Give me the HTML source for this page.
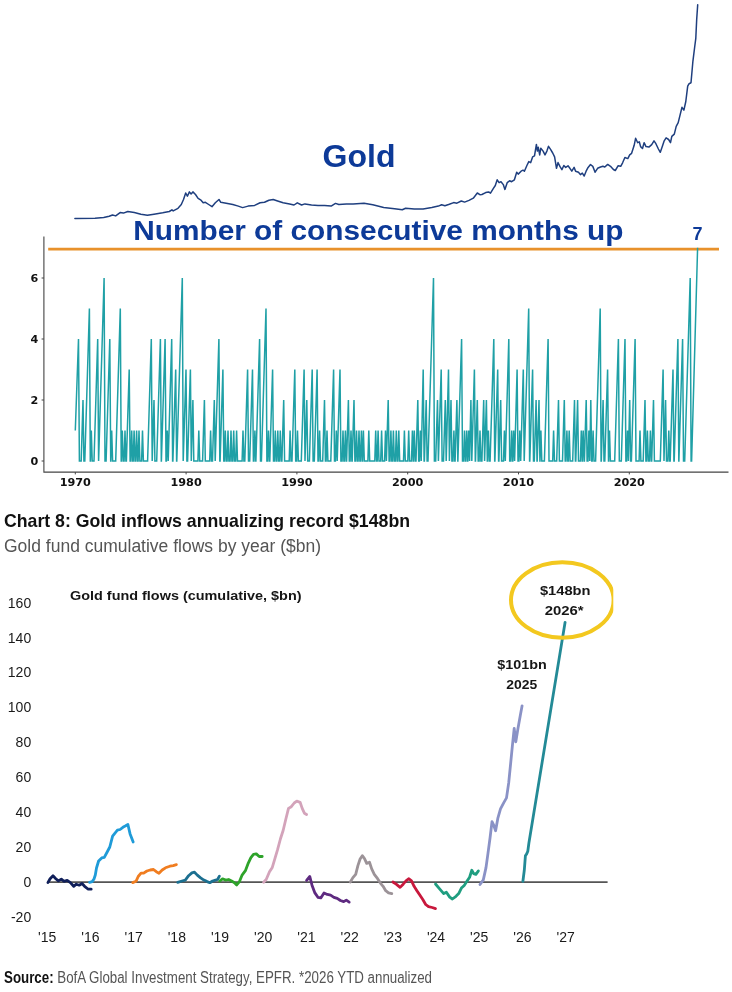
<!DOCTYPE html>
<html lang="en"><head><meta charset="utf-8"><title>Gold: consecutive months up &amp; fund flows</title>
<style>html,body{margin:0;padding:0;background:#fff}body{width:732px;height:992px;overflow:hidden}svg{display:block}.s{font-family:"Liberation Sans", sans-serif}.d{font-family:"DejaVu Sans", "Liberation Sans", sans-serif;font-weight:bold;font-size:10.5px;fill:#111}.ax{font-family:"Liberation Sans",sans-serif;font-size:14px;fill:#1a1a1a}.an{font-family:"Liberation Sans",sans-serif;font-weight:bold;font-size:13.5px;fill:#161616}</style></head><body>
<svg width="732" height="992" viewBox="0 0 732 992">
<rect width="732" height="992" fill="#fff"/>
<polyline fill="none" stroke="#1f3f7f" stroke-width="1.5" stroke-linejoin="round" stroke-linecap="round" points="74.9,218.5 95.0,218.3 103.7,217.6 109.2,216.3 112.5,215.0 115.7,215.9 120.1,212.6 123.4,213.1 127.8,211.5 134.3,212.6 140.9,214.2 147.4,215.2 154.0,214.2 162.7,212.8 169.3,211.5 171.9,209.8 173.2,210.9 178.0,208.3 181.3,204.5 183.5,199.5 185.7,193.0 187.4,196.2 189.4,191.9 191.1,194.0 192.9,191.9 195.5,194.5 198.1,198.4 201.0,200.2 203.2,202.8 205.4,202.3 208.7,204.5 212.0,206.7 215.3,202.8 219.0,199.5 220.8,202.3 226.2,203.2 232.8,204.5 238.3,206.1 242.6,207.6 248.1,206.1 254.6,205.4 260.1,202.8 264.5,202.3 268.9,200.2 273.2,199.5 277.6,201.0 283.1,202.8 289.6,203.9 294.0,205.0 297.3,202.8 301.6,205.0 304.9,203.9 311.5,205.0 318.0,205.4 324.6,205.6 331.1,206.1 335.5,203.4 338.8,204.5 346.4,203.9 353.1,203.9 364.0,203.2 372.8,204.8 383.7,207.6 394.6,208.7 402.3,209.8 405.6,208.3 414.3,209.1 423.1,209.1 431.8,207.6 438.4,206.1 441.6,204.8 444.9,205.8 449.3,204.3 453.7,202.6 456.9,203.2 461.3,201.0 464.6,202.1 469.0,200.4 473.3,198.2 477.3,193.0 479.9,194.7 481.9,194.5 485.7,192.6 488.6,191.9 490.5,193.2 493.4,188.4 495.3,185.5 497.2,179.8 499.1,182.7 501.0,181.7 503.3,184.6 504.9,189.4 507.2,182.7 509.6,180.8 511.6,181.7 514.4,179.8 516.7,172.2 518.2,174.1 521.1,171.2 523.0,170.2 524.4,171.2 526.9,165.5 528.8,161.6 530.7,162.6 532.6,156.9 534.5,155.9 536.4,144.4 537.4,151.1 538.3,147.3 539.7,154.9 540.8,148.2 543.1,151.1 545.0,154.9 546.9,151.1 548.5,146.3 550.4,149.2 552.7,153.0 554.6,156.9 556.5,168.3 558.0,162.6 559.9,166.4 561.9,169.7 563.8,165.5 565.7,167.4 568.0,165.8 569.9,168.3 571.8,171.2 574.1,167.4 575.6,171.2 578.5,172.2 580.4,174.6 582.3,173.1 584.2,176.0 586.1,171.2 588.1,167.4 590.5,164.5 592.8,166.4 595.1,172.2 597.6,168.3 600.5,167.0 602.9,166.3 604.8,167.0 607.7,164.4 610.5,166.3 613.4,169.5 615.3,170.5 618.2,165.7 620.7,166.3 622.6,162.8 624.9,157.5 627.8,158.6 629.7,154.8 631.6,153.3 634.1,145.6 635.6,138.3 637.7,142.7 639.3,141.8 640.6,146.6 642.5,148.5 644.1,142.7 646.0,146.6 648.9,147.1 651.7,144.6 654.0,140.8 655.9,143.7 658.4,149.0 660.3,152.3 662.3,146.6 664.2,140.8 666.1,137.9 668.6,139.5 670.5,142.7 671.8,136.4 674.3,134.1 676.2,126.4 678.2,122.6 680.1,114.9 682.0,107.3 683.9,110.2 685.8,101.5 687.7,86.2 689.1,83.7 691.0,82.8 692.9,61.3 694.8,46.0 695.8,38.3 696.7,19.2 697.7,4.8"/>
<text class="s" x="359" y="166.8" text-anchor="middle" font-size="32" font-weight="bold" fill="#0d3a98">Gold</text>
<text class="s" x="133.2" y="240" font-size="28" font-weight="bold" fill="#0d3a98" textLength="490.3" lengthAdjust="spacingAndGlyphs">Number of consecutive months up</text>
<text class="s" x="697.6" y="239.6" text-anchor="middle" font-size="18" font-weight="bold" fill="#0d3a98">7</text>
<path d="M43.9 236.5V472.1H728.5" fill="none" stroke="#444" stroke-width="1.1"/>
<line x1="41.6" x2="43.9" y1="461.0" y2="461.0" stroke="#444" stroke-width="1"/>
<text class="d" x="38.4" y="464.9" text-anchor="end" textLength="7.8" lengthAdjust="spacingAndGlyphs">0</text>
<line x1="41.6" x2="43.9" y1="400.0" y2="400.0" stroke="#444" stroke-width="1"/>
<text class="d" x="38.4" y="403.9" text-anchor="end" textLength="7.8" lengthAdjust="spacingAndGlyphs">2</text>
<line x1="41.6" x2="43.9" y1="339.0" y2="339.0" stroke="#444" stroke-width="1"/>
<text class="d" x="38.4" y="342.9" text-anchor="end" textLength="7.8" lengthAdjust="spacingAndGlyphs">4</text>
<line x1="41.6" x2="43.9" y1="278.0" y2="278.0" stroke="#444" stroke-width="1"/>
<text class="d" x="38.4" y="281.9" text-anchor="end" textLength="7.8" lengthAdjust="spacingAndGlyphs">6</text>
<line x1="75.3" x2="75.3" y1="472.1" y2="474.4" stroke="#444" stroke-width="1"/>
<text class="d" x="75.3" y="485.7" text-anchor="middle" textLength="31.3" lengthAdjust="spacingAndGlyphs">1970</text>
<line x1="186.1" x2="186.1" y1="472.1" y2="474.4" stroke="#444" stroke-width="1"/>
<text class="d" x="186.1" y="485.7" text-anchor="middle" textLength="31.3" lengthAdjust="spacingAndGlyphs">1980</text>
<line x1="296.9" x2="296.9" y1="472.1" y2="474.4" stroke="#444" stroke-width="1"/>
<text class="d" x="296.9" y="485.7" text-anchor="middle" textLength="31.3" lengthAdjust="spacingAndGlyphs">1990</text>
<line x1="407.7" x2="407.7" y1="472.1" y2="474.4" stroke="#444" stroke-width="1"/>
<text class="d" x="407.7" y="485.7" text-anchor="middle" textLength="31.3" lengthAdjust="spacingAndGlyphs">2000</text>
<line x1="518.5" x2="518.5" y1="472.1" y2="474.4" stroke="#444" stroke-width="1"/>
<text class="d" x="518.5" y="485.7" text-anchor="middle" textLength="31.3" lengthAdjust="spacingAndGlyphs">2010</text>
<line x1="629.3" x2="629.3" y1="472.1" y2="474.4" stroke="#444" stroke-width="1"/>
<text class="d" x="629.3" y="485.7" text-anchor="middle" textLength="31.3" lengthAdjust="spacingAndGlyphs">2020</text>
<line x1="48.2" x2="719" y1="249.1" y2="249.1" stroke="#e8912b" stroke-width="2.9"/>
<polyline fill="none" stroke="#1fa0a6" stroke-width="1.5" stroke-linejoin="miter" stroke-miterlimit="3" points="75.3,430.5 78.5,339.0 79.4,461.0 81.2,461.0 83.0,400.0 83.9,461.0 84.8,461.0 89.4,308.5 90.3,461.0 90.4,461.0 91.3,430.5 92.2,461.0 94.0,461.0 97.7,339.0 98.6,461.0 104.1,278.0 105.0,461.0 106.1,461.0 109.8,339.0 110.7,461.0 110.8,461.0 111.7,430.5 112.6,461.0 115.7,461.0 120.3,308.5 121.2,461.0 121.4,461.0 122.3,430.5 123.2,461.0 124.1,461.0 125.0,430.5 125.9,461.0 126.4,461.0 129.2,369.5 130.1,461.0 130.8,461.0 131.7,430.5 132.6,461.0 133.2,461.0 134.1,430.5 135.0,461.0 135.7,461.0 136.6,430.5 137.5,461.0 138.1,461.0 139.0,430.5 139.9,461.0 141.6,461.0 142.5,430.5 143.4,461.0 147.6,461.0 151.3,339.0 152.2,461.0 154.0,400.0 154.9,461.0 156.7,461.0 160.4,339.0 161.3,461.0 161.4,461.0 165.1,339.0 166.0,461.0 166.4,461.0 167.3,430.5 168.2,461.0 171.7,339.0 172.6,461.0 172.9,461.0 175.7,369.5 176.6,461.0 176.8,461.0 182.3,278.0 183.2,461.0 186.0,369.5 186.9,461.0 187.6,461.0 190.4,369.5 191.3,461.0 192.9,400.0 193.8,461.0 197.9,461.0 198.8,430.5 199.7,461.0 202.6,461.0 204.4,400.0 205.3,461.0 209.7,461.0 210.6,430.5 211.5,461.0 212.5,461.0 214.3,400.0 215.2,461.0 218.9,339.0 219.8,461.0 220.1,461.0 222.9,369.5 223.8,461.0 224.4,461.0 225.3,430.5 226.2,461.0 227.1,461.0 228.0,430.5 228.9,461.0 230.1,461.0 231.0,430.5 231.9,461.0 232.8,461.0 233.7,430.5 234.6,461.0 235.7,461.0 236.6,430.5 237.5,461.0 242.1,461.0 243.0,430.5 243.9,461.0 244.8,461.0 247.6,369.5 248.5,461.0 249.7,461.0 252.5,369.5 253.4,461.0 254.0,461.0 254.9,430.5 255.8,461.0 255.9,461.0 259.6,339.0 260.5,461.0 261.4,461.0 266.0,308.5 266.9,461.0 267.6,461.0 268.5,430.5 269.4,461.0 269.8,461.0 272.6,369.5 273.5,461.0 274.4,461.0 275.3,430.5 276.2,461.0 276.9,461.0 277.8,430.5 278.7,461.0 279.4,461.0 280.3,430.5 281.2,461.0 281.9,461.0 283.7,400.0 284.6,461.0 289.2,461.0 290.1,430.5 291.0,461.0 292.0,461.0 294.8,369.5 295.7,461.0 296.6,461.0 297.5,430.5 298.4,461.0 301.3,461.0 304.1,369.5 305.0,461.0 306.8,400.0 307.7,461.0 309.4,461.0 312.2,369.5 313.1,461.0 314.3,461.0 317.1,369.5 318.0,461.0 318.7,461.0 319.6,430.5 320.5,461.0 322.7,461.0 324.5,400.0 325.4,461.0 326.1,461.0 327.0,430.5 327.9,461.0 330.8,461.0 333.6,369.5 334.5,461.0 335.4,461.0 336.3,430.5 337.2,461.0 340.0,369.5 340.9,461.0 342.1,461.0 343.0,430.5 343.9,461.0 344.5,461.0 345.4,430.5 346.3,461.0 346.6,461.0 348.4,400.0 349.3,461.0 350.1,461.0 351.0,430.5 351.9,461.0 352.2,461.0 354.0,400.0 354.9,461.0 355.6,461.0 356.5,430.5 357.4,461.0 358.1,461.0 359.0,430.5 359.9,461.0 360.5,461.0 361.4,430.5 362.3,461.0 362.5,461.0 363.4,430.5 364.3,461.0 367.9,461.0 368.8,430.5 369.7,461.0 374.8,461.0 375.7,430.5 376.6,461.0 377.2,461.0 378.1,430.5 379.0,461.0 380.7,461.0 381.6,430.5 382.5,461.0 384.6,461.0 385.5,430.5 386.4,461.0 388.2,400.0 389.1,461.0 390.0,461.0 390.9,430.5 391.8,461.0 392.5,461.0 393.4,430.5 394.3,461.0 395.4,461.0 396.3,430.5 397.2,461.0 397.9,461.0 398.8,430.5 399.7,461.0 403.5,461.0 404.4,430.5 405.3,461.0 407.8,461.0 408.7,430.5 409.6,461.0 411.5,461.0 412.4,430.5 413.3,461.0 413.4,461.0 414.3,430.5 415.2,461.0 416.0,461.0 417.8,400.0 418.7,461.0 419.4,461.0 420.3,430.5 421.2,461.0 423.2,369.5 424.1,461.0 424.4,461.0 426.2,400.0 427.1,461.0 428.0,461.0 433.5,278.0 434.4,461.0 435.7,461.0 437.5,400.0 438.4,461.0 441.2,369.5 442.1,461.0 443.5,461.0 445.3,400.0 446.2,461.0 448.5,369.5 449.4,461.0 451.0,400.0 451.9,461.0 453.0,461.0 453.9,430.5 454.8,461.0 455.1,461.0 456.9,400.0 457.8,461.0 457.9,461.0 461.6,339.0 462.5,461.0 463.6,461.0 464.5,430.5 465.4,461.0 465.8,461.0 466.7,430.5 467.6,461.0 467.8,461.0 468.7,430.5 469.6,461.0 470.9,400.0 471.8,461.0 474.4,369.5 475.3,461.0 475.5,461.0 477.3,400.0 478.2,461.0 479.1,461.0 480.0,430.5 480.9,461.0 481.9,461.0 483.7,400.0 484.6,461.0 486.4,400.0 487.3,461.0 487.5,461.0 488.4,430.5 489.3,461.0 490.1,461.0 493.8,339.0 494.7,461.0 494.9,461.0 497.7,369.5 498.6,461.0 498.9,461.0 500.7,400.0 501.6,461.0 503.5,461.0 504.4,430.5 505.3,461.0 508.8,339.0 509.7,461.0 510.8,461.0 511.7,430.5 512.6,461.0 512.8,461.0 513.7,430.5 514.6,461.0 517.1,369.5 518.0,461.0 518.9,461.0 519.8,430.5 520.7,461.0 523.3,369.5 524.2,461.0 528.7,308.5 529.6,461.0 529.8,461.0 532.6,369.5 533.5,461.0 534.3,461.0 536.1,400.0 537.0,461.0 537.2,461.0 539.0,400.0 539.9,461.0 540.0,461.0 540.9,430.5 541.8,461.0 544.4,461.0 548.1,339.0 549.0,461.0 552.7,461.0 553.6,430.5 554.5,461.0 556.7,461.0 558.5,400.0 559.4,461.0 562.5,461.0 564.3,400.0 565.2,461.0 566.0,461.0 566.9,430.5 567.8,461.0 568.3,461.0 569.2,430.5 570.1,461.0 572.7,461.0 574.5,400.0 575.4,461.0 575.8,461.0 577.6,400.0 578.5,461.0 580.4,461.0 581.3,430.5 582.2,461.0 582.3,461.0 583.2,430.5 584.1,461.0 584.4,461.0 586.2,400.0 587.1,461.0 588.0,461.0 588.9,430.5 589.8,461.0 590.8,400.0 591.7,461.0 592.2,461.0 593.1,430.5 594.0,461.0 595.6,461.0 600.2,308.5 601.1,461.0 601.3,461.0 603.1,400.0 604.0,461.0 604.8,461.0 607.6,369.5 608.5,461.0 608.6,461.0 609.5,430.5 610.4,461.0 614.7,461.0 618.4,339.0 619.3,461.0 621.3,461.0 625.0,339.0 625.9,461.0 626.6,461.0 627.5,430.5 628.4,461.0 629.7,400.0 630.6,461.0 631.4,461.0 635.1,339.0 636.0,461.0 639.1,461.0 640.0,430.5 640.9,461.0 643.2,461.0 645.0,400.0 645.9,461.0 646.5,461.0 647.4,430.5 648.3,461.0 649.5,461.0 650.4,430.5 651.3,461.0 651.7,461.0 653.5,400.0 654.4,461.0 660.3,461.0 663.1,369.5 664.0,461.0 665.6,400.0 666.5,461.0 667.9,461.0 668.8,430.5 669.7,461.0 670.2,461.0 673.0,369.5 673.9,461.0 674.2,461.0 677.9,339.0 678.8,461.0 678.9,461.0 682.6,339.0 683.5,461.0 684.7,461.0 690.2,278.0 691.1,461.0 691.6,461.0 697.6,247.7"/>
<text class="s" x="4" y="526.8" font-size="19" font-weight="bold" fill="#111" textLength="406" lengthAdjust="spacingAndGlyphs">Chart 8: Gold inflows annualizing record $148bn</text>
<text class="s" x="4" y="551.5" font-size="18" fill="#555" textLength="317" lengthAdjust="spacingAndGlyphs">Gold fund cumulative flows by year ($bn)</text>
<text class="an" x="70" y="599.6" font-size="13.5" textLength="231.5" lengthAdjust="spacingAndGlyphs">Gold fund flows (cumulative, $bn)</text>
<text class="ax" x="31.2" y="922.1" text-anchor="end">-20</text>
<text class="ax" x="31.2" y="887.1" text-anchor="end">0</text>
<text class="ax" x="31.2" y="852.1" text-anchor="end">20</text>
<text class="ax" x="31.2" y="817.2" text-anchor="end">40</text>
<text class="ax" x="31.2" y="782.2" text-anchor="end">60</text>
<text class="ax" x="31.2" y="747.3" text-anchor="end">80</text>
<text class="ax" x="31.2" y="712.4" text-anchor="end">100</text>
<text class="ax" x="31.2" y="677.4" text-anchor="end">120</text>
<text class="ax" x="31.2" y="642.5" text-anchor="end">140</text>
<text class="ax" x="31.2" y="607.5" text-anchor="end">160</text>
<text class="ax" x="47.2" y="942" text-anchor="middle" font-size="14.6">&#39;15</text>
<text class="ax" x="90.4" y="942" text-anchor="middle" font-size="14.6">&#39;16</text>
<text class="ax" x="133.6" y="942" text-anchor="middle" font-size="14.6">&#39;17</text>
<text class="ax" x="176.8" y="942" text-anchor="middle" font-size="14.6">&#39;18</text>
<text class="ax" x="220.0" y="942" text-anchor="middle" font-size="14.6">&#39;19</text>
<text class="ax" x="263.2" y="942" text-anchor="middle" font-size="14.6">&#39;20</text>
<text class="ax" x="306.4" y="942" text-anchor="middle" font-size="14.6">&#39;21</text>
<text class="ax" x="349.6" y="942" text-anchor="middle" font-size="14.6">&#39;22</text>
<text class="ax" x="392.8" y="942" text-anchor="middle" font-size="14.6">&#39;23</text>
<text class="ax" x="436.0" y="942" text-anchor="middle" font-size="14.6">&#39;24</text>
<text class="ax" x="479.2" y="942" text-anchor="middle" font-size="14.6">&#39;25</text>
<text class="ax" x="522.4" y="942" text-anchor="middle" font-size="14.6">&#39;26</text>
<text class="ax" x="565.6" y="942" text-anchor="middle" font-size="14.6">&#39;27</text>
<line x1="47" x2="607.6" y1="882.1" y2="882.1" stroke="#555" stroke-width="1.9"/>
<polyline fill="none" stroke="#101f5a" stroke-width="2.8" stroke-linejoin="round" stroke-linecap="round" points="47.9,882.6 50.1,878.7 53.0,875.8 55.8,878.7 58.4,880.9 61.3,879.1 63.9,881.3 67.2,880.4 70.4,882.6 73.7,886.3 76.3,884.2 79.2,885.2 82.0,883.5 84.6,886.3 87.9,889.0 91.2,889.2"/>
<polyline fill="none" stroke="#1f9bd8" stroke-width="2.8" stroke-linejoin="round" stroke-linecap="round" points="89.6,882.3 92.2,881.6 94.0,879.0 95.3,875.0 96.5,868.0 98.6,861.0 101.7,857.9 104.3,857.3 106.9,852.5 109.8,847.0 112.6,836.1 115.2,832.8 117.4,830.2 120.1,829.5 122.9,827.3 125.7,825.8 127.9,824.5 130.1,833.9 133.2,842.0"/>
<polyline fill="none" stroke="#f07d20" stroke-width="2.8" stroke-linejoin="round" stroke-linecap="round" points="132.7,882.6 136.0,881.3 138.2,876.5 141.0,873.2 143.7,873.2 146.9,871.0 150.2,870.0 153.5,869.5 156.3,871.7 159.0,873.2 162.2,870.0 165.5,867.8 169.9,866.2 173.2,865.6 176.4,864.7"/>
<polyline fill="none" stroke="#1b6f90" stroke-width="2.8" stroke-linejoin="round" stroke-linecap="round" points="177.7,882.3 182.0,881.0 185.3,880.1 188.6,875.7 191.9,872.9 194.5,872.2 197.3,875.1 200.6,877.9 203.9,880.1 207.2,881.6 209.8,882.7 212.6,881.0 215.5,880.1 217.6,879.5 219.4,876.2"/>
<polyline fill="none" stroke="#2ea32a" stroke-width="2.8" stroke-linejoin="round" stroke-linecap="round" points="219.8,881.0 222.5,878.8 225.7,880.1 228.6,879.5 231.6,881.0 234.5,882.7 236.7,884.9 239.5,881.6 242.1,875.1 245.4,870.7 248.3,863.1 250.9,857.6 253.5,854.3 256.3,853.9 259.2,856.5 262.2,856.5"/>
<polyline fill="none" stroke="#d3a3ba" stroke-width="2.8" stroke-linejoin="round" stroke-linecap="round" points="263.6,882.3 266.2,879.5 269.5,871.8 272.3,867.4 274.9,858.7 277.5,849.9 280.4,839.0 283.2,830.3 285.8,819.3 288.5,808.4 291.3,806.7 294.2,803.0 296.8,801.2 300.1,802.3 302.2,808.4 304.4,813.2 306.6,814.5"/>
<polyline fill="none" stroke="#5e2a80" stroke-width="2.8" stroke-linejoin="round" stroke-linecap="round" points="306.6,880.4 309.8,876.5 312.0,885.2 314.9,892.9 317.9,897.3 320.8,897.9 324.0,892.9 327.3,894.4 330.6,895.1 333.9,897.3 337.2,898.4 340.4,900.5 343.7,901.6 346.3,900.1 349.2,902.1"/>
<polyline fill="none" stroke="#9c9398" stroke-width="2.8" stroke-linejoin="round" stroke-linecap="round" points="350.3,882.0 352.9,877.6 355.7,874.3 357.9,865.6 360.1,859.0 362.3,855.7 364.5,858.6 366.7,863.4 369.5,862.3 371.7,868.9 374.3,874.3 377.6,878.7 380.4,883.1 383.1,886.3 385.7,890.7 388.5,892.9 391.8,893.6"/>
<polyline fill="none" stroke="#c8183c" stroke-width="2.8" stroke-linejoin="round" stroke-linecap="round" points="392.9,882.0 396.2,884.2 400.1,887.4 403.2,884.2 406.0,880.9 408.9,878.7 411.5,880.9 414.1,886.3 416.9,890.7 419.8,895.1 422.8,899.5 425.7,904.5 428.5,906.7 432.2,907.5 435.5,908.6"/>
<polyline fill="none" stroke="#1f9e80" stroke-width="2.8" stroke-linejoin="round" stroke-linecap="round" points="435.5,884.0 439.6,888.9 443.7,893.6 446.4,892.2 449.7,897.1 452.4,899.0 456.0,896.3 458.7,893.6 461.4,888.1 464.2,885.4 466.9,881.3 469.6,877.2 471.8,870.3 473.7,873.6 475.9,874.4 478.4,870.9"/>
<polyline fill="none" stroke="#8a92c6" stroke-width="2.8" stroke-linejoin="round" stroke-linecap="round" points="480.0,884.5 483.3,879.9 486.0,867.6 487.9,853.9 490.1,837.5 492.0,821.7 493.7,825.2 495.6,830.7 497.8,818.4 500.5,808.9 503.8,802.6 506.5,797.9 508.7,782.9 510.6,763.8 512.5,744.6 514.2,728.3 515.8,741.9 518.0,728.3 520.2,716.0 522.1,705.8"/>
<polyline fill="none" stroke="#238a96" stroke-width="2.8" stroke-linejoin="round" stroke-linecap="round" points="522.9,881.3 524.3,870.3 525.4,855.8 526.7,853.9 527.8,851.2 528.9,843.0 565.1,622.3"/>
<clipPath id="ec"><rect x="500" y="550" width="113.3" height="100"/></clipPath>
<ellipse cx="562.3" cy="600" rx="51.3" ry="37.8" fill="none" stroke="#f3c81f" stroke-width="4" clip-path="url(#ec)"/>
<text class="an" x="565.2" y="595" text-anchor="middle" textLength="50.6" lengthAdjust="spacingAndGlyphs">$148bn</text>
<text class="an" x="564.2" y="614.6" text-anchor="middle" textLength="39" lengthAdjust="spacingAndGlyphs">2026*</text>
<text class="an" x="522" y="669.3" text-anchor="middle" textLength="49.5" lengthAdjust="spacingAndGlyphs">$101bn</text>
<text class="an" x="521.7" y="689.4" text-anchor="middle" textLength="31" lengthAdjust="spacingAndGlyphs">2025</text>
<text class="s" x="4" y="983" font-size="16" fill="#555" textLength="428" lengthAdjust="spacingAndGlyphs"><tspan font-weight="bold" fill="#111">Source:</tspan> BofA Global Investment Strategy, EPFR. *2026 YTD annualized</text>
</svg></body></html>
